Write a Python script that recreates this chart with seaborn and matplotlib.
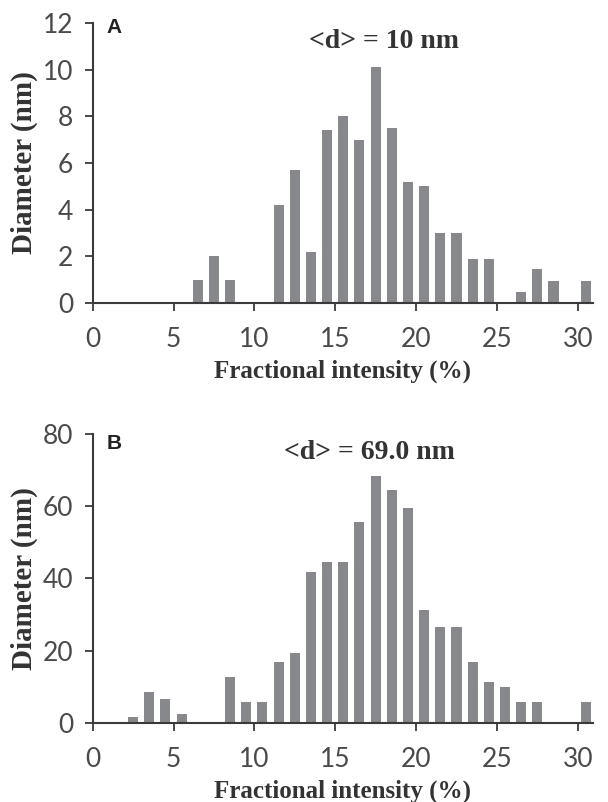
import matplotlib
matplotlib.use("Agg")
import matplotlib.pyplot as plt
import seaborn as sns
import pandas as pd

# --- DATA ---
pos_a = [6.5, 7.5, 8.5, 11.5, 12.5, 13.5, 14.5, 15.5, 16.5, 17.5, 18.5,
         19.5, 20.5, 21.5, 22.5, 23.5, 24.5, 26.5, 27.5, 28.5, 30.5]
val_a = [1, 2, 1, 4.2, 5.7, 2.2, 7.4, 8.0, 7.0, 10.1, 7.5,
         5.2, 5.0, 3.0, 3.0, 1.9, 1.9, 0.45, 1.45, 0.95, 0.95]

pos_b = [2.5, 3.5, 4.5, 5.5, 8.5, 9.5, 10.5, 11.5, 12.5, 13.5, 14.5, 15.5,
         16.5, 17.5, 18.5, 19.5, 20.5, 21.5, 22.5, 23.5, 24.5, 25.5, 26.5,
         27.5, 30.5]
val_b = [1.7, 8.6, 6.6, 2.6, 12.7, 5.8, 5.8, 16.8, 19.5, 41.7, 44.5, 44.5,
         55.5, 68.5, 64.5, 59.5, 31.3, 26.5, 26.5, 16.8, 11.4, 9.9, 5.8,
         5.8, 5.8]

x_ticks = [0, 5, 10, 15, 20, 25, 30]
y_ticks_a = [0, 2, 4, 6, 8, 10, 12]
y_ticks_b = [0, 20, 40, 60, 80]

panels = [
    ("A", 1.018, pos_a, val_a, y_ticks_a, "<d> = 10 nm", (18.0, 11.2)),
    ("B", 1.0, pos_b, val_b, y_ticks_b, "<d> = 69.0 nm", (17.1, 75.0)),
]

sns.set_style("ticks")
bar_color = "#87888c"
axis_color = "#3a3a3a"
tick_font = ["Lato", "DejaVu Sans"]
label_font = ["Liberation Serif", "DejaVu Serif"]

fig = plt.figure(figsize=(6.08, 8.02), dpi=100)
boxes = [[0.1525, 0.6222, 0.823, 0.349], [0.1525, 0.0985, 0.823, 0.3604]]

for box, (letter, ly, pos, vals, yt, note, note_xy) in zip(boxes, panels):
    ax = fig.add_axes(box)
    df = pd.DataFrame({"x": pos, "y": vals})
    sns.barplot(data=df, x="x", y="y", native_scale=True, width=0.62,
                color=bar_color, saturation=1, edgecolor="none", ax=ax)
    ax.set_xlim(0, 30.95)
    ax.set_ylim(0, yt[-1])
    ax.set_xticks(x_ticks)
    ax.set_yticks(yt)
    ax.set_xticklabels([str(t) for t in x_ticks], family=tick_font,
                       fontsize=19, color="#4a4a4a")
    ax.set_yticklabels([str(t) for t in yt], family=tick_font,
                       fontsize=19, color="#4a4a4a")
    ax.tick_params(axis="y", length=6, width=1.3, color=axis_color, pad=8)
    ax.tick_params(axis="x", length=6, width=1.3, color=axis_color, pad=11)
    sns.despine(ax=ax)
    for side in ["left", "bottom"]:
        ax.spines[side].set_color(axis_color)
        ax.spines[side].set_linewidth(1.5)
    ax.set_xlabel("Fractional intensity (%)", family=label_font,
                  fontweight="bold", fontsize=18, color="#333333", labelpad=6)
    ax.set_ylabel("Diameter (nm)", family=label_font, fontweight="bold",
                  fontsize=21, color="#333333", labelpad=3)
    ax.text(0.028, ly, letter, transform=ax.transAxes, ha="left",
            va="top", fontsize=15, fontweight="bold", color="#222222",
            family=["Liberation Sans", "DejaVu Sans"])
    ax.text(note_xy[0], note_xy[1], note, ha="center", va="center",
            fontsize=20, fontweight="bold", color="#333333",
            family=label_font)

fig.savefig("out.png", dpi=100)
